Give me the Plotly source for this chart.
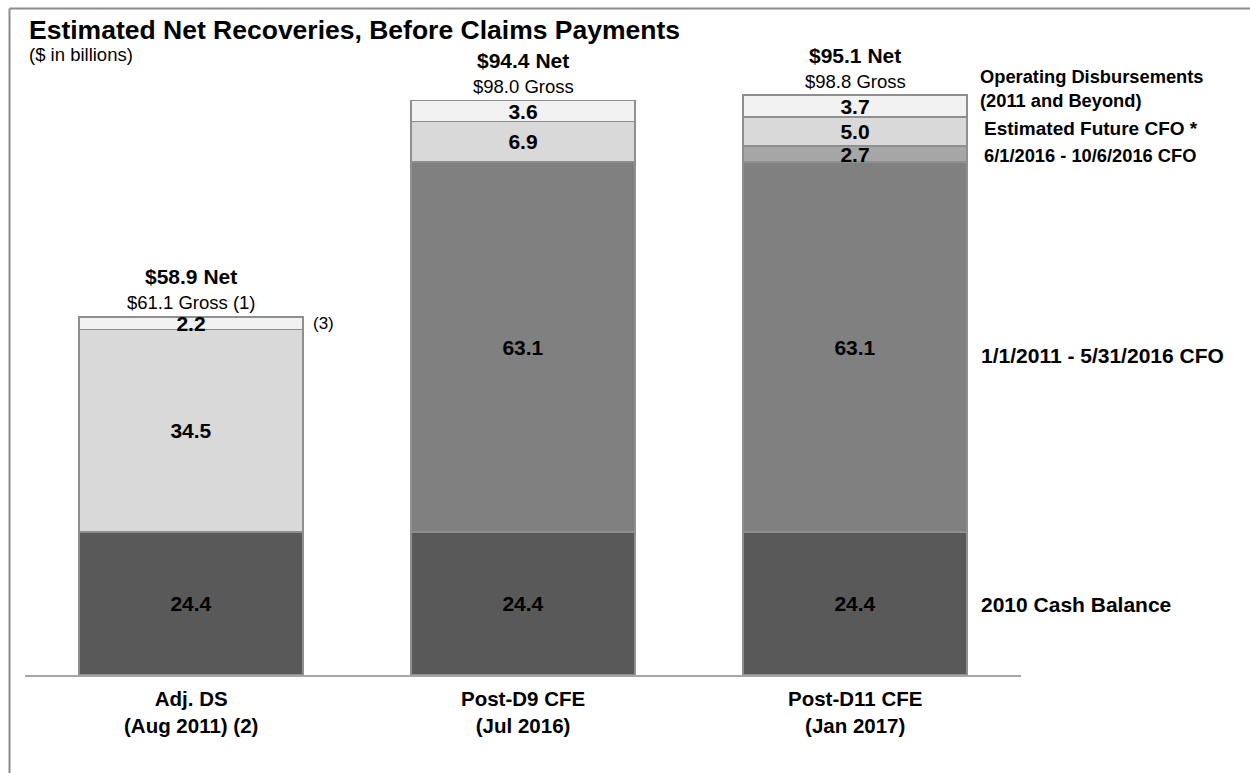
import plotly.graph_objects as go

categories = ["Adj. DS<br>(Aug 2011) (2)", "Post-D9 CFE<br>(Jul 2016)", "Post-D11 CFE<br>(Jan 2017)"]
cash_2010 = [24.4, 24.4, 24.4]
cfo_2011_2016 = [None, 63.1, 63.1]
cfo_jun_oct_2016 = [None, None, 2.7]
est_future_cfo = [34.5, 6.9, 5.0]
operating_disb = [2.2, 3.6, 3.7]
net_labels = ["$58.9 Net", "$94.4 Net", "$95.1 Net"]
gross_labels = ["$61.1 Gross (1)", "$98.0 Gross", "$98.8 Gross"]

series = [
    ("2010 Cash Balance", cash_2010, "#595959"),
    ("1/1/2011 - 5/31/2016 CFO", cfo_2011_2016, "#808080"),
    ("6/1/2016 - 10/6/2016 CFO", cfo_jun_oct_2016, "#a6a6a6"),
    ("Estimated Future CFO *", est_future_cfo, "#d9d9d9"),
    ("Operating Disbursements<br>(2011 and Beyond)", operating_disb, "#f2f2f2"),
]

FONT = "Liberation Sans, Arial, sans-serif"
W, H = 1250, 773
ML, MR, MT, MB = 25, 229, 80, 98
YMAX = 101.5
PW = W - ML - MR
PH = H - MT - MB


def px2x(px):
    return (px - ML) / PW


def py2y(py):
    return (H - MB - py) / PH


fig = go.Figure()
for name, vals, color in series:
    fig.add_trace(go.Bar(
        x=list(range(len(categories))), y=vals, name=name,
        marker=dict(color=color, line=dict(color="#8f8f8f", width=1.5)),
        texttemplate="%{y:.1f}", textposition="inside", insidetextanchor="middle",
        constraintext="none",
        insidetextfont=dict(family=FONT, size=21, color="black", weight="bold"),
        hoverinfo="skip",
    ))

totals = []
for i in range(len(categories)):
    totals.append(sum((s[1][i] or 0) for s in series))

annotations = []
for i in range(len(categories)):
    annotations.append(dict(x=i, y=totals[i], xref="x", yref="y", text=gross_labels[i],
                            showarrow=False, yanchor="middle", yshift=14,
                            font=dict(family=FONT, size=18.5, color="black")))
    annotations.append(dict(x=i, y=totals[i], xref="x", yref="y", text=net_labels[i],
                            showarrow=False, yanchor="middle", yshift=40,
                            font=dict(family=FONT, size=21, color="black", weight="bold")))
    annotations.append(dict(x=i, y=0, xref="x", yref="y", text=categories[i], showarrow=False,
                            yanchor="middle", yshift=-37,
                            font=dict(family=FONT, size=20.5, color="black", weight="bold")))

annotations.append(dict(x=0.3375, y=cash_2010[0] + est_future_cfo[0] + operating_disb[0] / 2,
                        xref="x", yref="y", text="(3)", showarrow=False, xanchor="left",
                        xshift=8, yanchor="middle",
                        font=dict(family=FONT, size=17, color="black")))

last = len(categories) - 1
base = 0
label_shift = {"2010 Cash Balance": -1, "1/1/2011 - 5/31/2016 CFO": -8,
               "6/1/2016 - 10/6/2016 CFO": -1, "Estimated Future CFO *": 3,
               "Operating Disbursements<br>(2011 and Beyond)": 18}
label_size = {"2010 Cash Balance": 21, "1/1/2011 - 5/31/2016 CFO": 21,
              "6/1/2016 - 10/6/2016 CFO": 18.3, "Estimated Future CFO *": 19,
              "Operating Disbursements<br>(2011 and Beyond)": 18.3}
label_x = {"2010 Cash Balance": 979, "1/1/2011 - 5/31/2016 CFO": 979,
           "6/1/2016 - 10/6/2016 CFO": 982, "Estimated Future CFO *": 982,
           "Operating Disbursements<br>(2011 and Beyond)": 978}
for name, vals, color in series:
    v = vals[last] or 0
    mid = base + v / 2
    base += v
    annotations.append(dict(x=px2x(label_x[name]), y=mid, xref="paper", yref="y", text=name,
                            showarrow=False, xanchor="left", yanchor="middle", align="left",
                            yshift=label_shift[name],
                            font=dict(family=FONT, size=label_size[name], color="black",
                                      weight="bold")))

annotations.append(dict(x=px2x(27), y=py2y(30), xref="paper", yref="paper",
                        text="Estimated Net Recoveries, Before Claims Payments", showarrow=False,
                        xanchor="left", yanchor="middle",
                        font=dict(family=FONT, size=26.5, color="black", weight="bold")))
annotations.append(dict(x=px2x(27), y=py2y(55), xref="paper", yref="paper",
                        text="($ in billions)", showarrow=False,
                        xanchor="left", yanchor="middle",
                        font=dict(family=FONT, size=18.5, color="black")))

shapes = [
    dict(type="line", xref="paper", yref="paper", x0=px2x(9.5), x1=px2x(1260),
         y0=py2y(8.5), y1=py2y(8.5), line=dict(color="#8c8c8c", width=2)),
    dict(type="line", xref="paper", yref="paper", x0=px2x(9.5), x1=px2x(9.5),
         y0=py2y(8.5), y1=py2y(780), line=dict(color="#8c8c8c", width=2)),
]

fig.update_layout(
    barmode="stack", bargap=0.325, showlegend=False,
    width=W, height=H, margin=dict(l=ML, r=MR, t=MT, b=MB, pad=0),
    paper_bgcolor="white", plot_bgcolor="white",
    annotations=annotations, shapes=shapes,
    xaxis=dict(range=[-0.5, 2.5], showticklabels=False, showgrid=False, zeroline=False,
               showline=True, linecolor="#a6a6a6", linewidth=2, ticks=""),
    yaxis=dict(range=[0, YMAX], visible=False, showgrid=False, zeroline=False),
)

fig.write_html("out.html")
